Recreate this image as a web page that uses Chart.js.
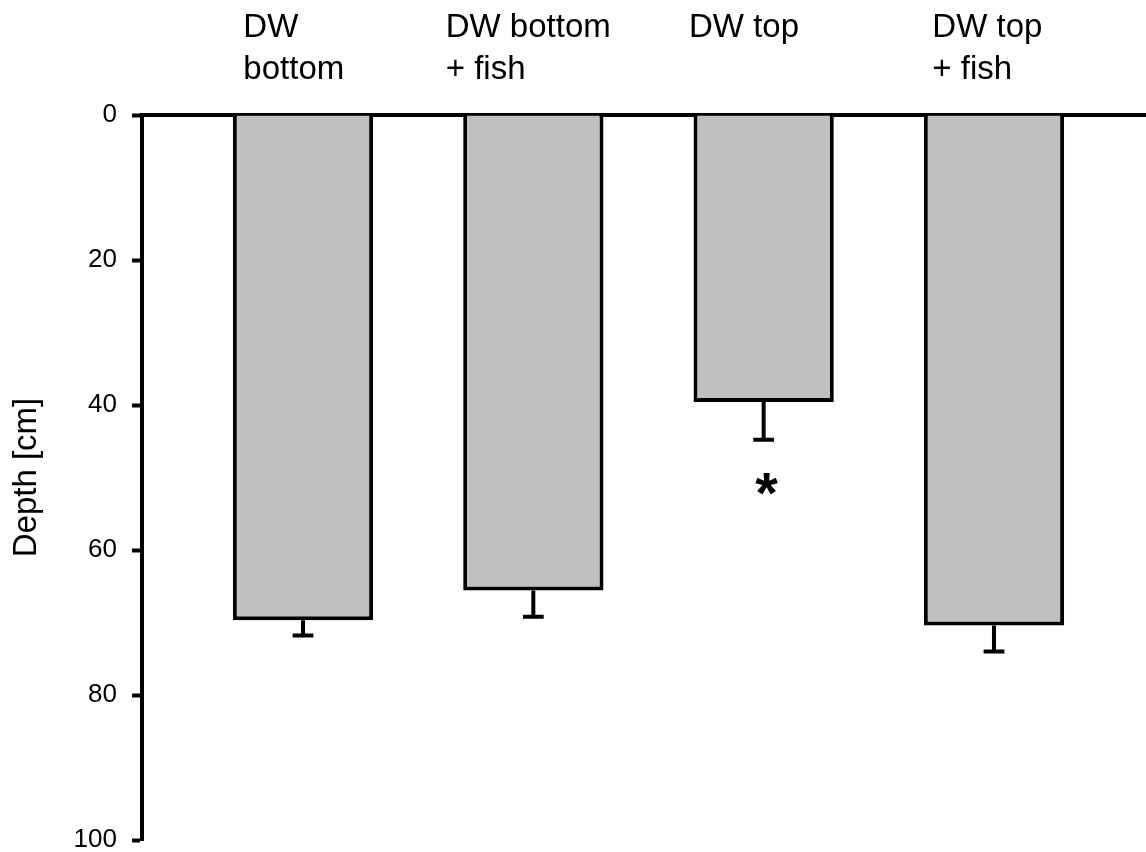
<!DOCTYPE html>
<html>
<head>
<meta charset="utf-8">
<script src="https://cdn.jsdelivr.net/npm/chart.js@4/dist/chart.umd.min.js"></script>
<style>
  html, body { margin: 0; padding: 0; background: #fff; }
  canvas { display: block; }
</style>
</head>
<body>
<canvas id="depthChart" width="1146" height="852"></canvas>
<script>
// Treatment groups (each entry is the label's lines, top to bottom)
const groups = [['DW', 'bottom'], ['DW bottom', '+ fish'], ['DW top'], ['DW top', '+ fish']];
// Mean depth reached per treatment [cm]
const depthMean = [69.7, 65.6, 39.6, 70.4];
// One-sided error (extends downwards, deeper) [cm]
const depthErr = [2.1, 3.6, 5.2, 3.6];
// Significance markers shown under the error bars
const sigMarks = ['', '', '*', ''];
// Depth axis ticks
const depthTicks = [0, 20, 40, 60, 80, 100];

const FONT = '"Liberation Sans", Arial, Helvetica, sans-serif';

// Horizontal shift of each group label relative to its bar's left edge
const labelShift = [10.5, -17.5, -4.5, 8.5];

const errorBars = {
  id: 'errorBars',
  afterDatasetsDraw(chart) {
    const { ctx } = chart;
    const yScale = chart.scales.y;
    const meta = chart.getDatasetMeta(0);
    ctx.save();
    ctx.strokeStyle = '#000';
    ctx.lineWidth = 4;
    ctx.lineCap = 'butt';
    meta.data.forEach((bar, i) => {
      const x = bar.x;
      const y0 = yScale.getPixelForValue(depthMean[i]);
      const y1 = yScale.getPixelForValue(depthMean[i] + depthErr[i]);
      const half = bar.width * 0.074;
      ctx.beginPath();
      ctx.moveTo(x, y0);
      ctx.lineTo(x, y1);
      ctx.moveTo(x - half, y1);
      ctx.lineTo(x + half, y1);
      ctx.stroke();
      if (sigMarks[i]) {
        ctx.fillStyle = '#000';
        ctx.font = 'bold 58px ' + FONT;
        ctx.textAlign = 'center';
        ctx.textBaseline = 'alphabetic';
        ctx.fillText(sigMarks[i], x + 3, y1 + 73);
      }
    });
    ctx.restore();
  }
};

const groupLabels = {
  id: 'groupLabels',
  afterDraw(chart) {
    const { ctx } = chart;
    const meta = chart.getDatasetMeta(0);
    ctx.save();
    ctx.fillStyle = '#000';
    ctx.font = '33px ' + FONT;
    ctx.textAlign = 'left';
    ctx.textBaseline = 'alphabetic';
    meta.data.forEach((bar, i) => {
      const left = bar.x - bar.width / 2 + labelShift[i];
      groups[i].forEach((line, k) => {
        ctx.fillText(line, left, 37 + k * 41.7);
      });
    });
    ctx.restore();
  }
};

new Chart(document.getElementById('depthChart'), {
  type: 'bar',
  data: {
    datasets: [{
      data: depthMean.map((v, i) => ({ x: i + 1, y: v })),
      backgroundColor: '#c0c0c0',
      borderColor: '#000',
      borderWidth: 4,
      borderSkipped: 'start',
      barPercentage: 0.609,
      categoryPercentage: 1
    }]
  },
  options: {
    responsive: false,
    animation: false,
    devicePixelRatio: 1,
    layout: { padding: { top: 115, bottom: 12, left: 0, right: 0 } },
    plugins: { legend: { display: false }, tooltip: { enabled: false } },
    scales: {
      x: {
        type: 'linear',
        position: 'top',
        offset: false,
        min: 0.301,
        max: 4.66,
        afterBuildTicks: s => { s.ticks = depthMean.map((_, i) => ({ value: i + 1 })); },
        ticks: { display: false },
        grid: { display: true, drawOnChartArea: false, drawTicks: false, offset: false },
        border: { display: true, color: '#000', width: 4 }
      },
      y: {
        type: 'linear',
        reverse: true,
        min: 0,
        max: 100,
        afterBuildTicks: s => { s.ticks = depthTicks.map(v => ({ value: v })); },
        afterFit: s => { s.width = 142; s.paddingTop = 0; s.paddingBottom = 0; },
        ticks: { color: '#000', font: { family: FONT, size: 26 }, padding: 15 },
        grid: { display: true, drawOnChartArea: false, drawTicks: true, tickLength: 10, tickWidth: 4, tickColor: '#000' },
        border: { display: true, color: '#000', width: 4 },
        title: {
          display: true,
          text: 'Depth [cm]',
          color: '#000',
          font: { family: FONT, size: 33 },
          padding: { top: 7, bottom: 0 }
        }
      }
    }
  },
  plugins: [errorBars, groupLabels]
});
</script>
</body>
</html>
